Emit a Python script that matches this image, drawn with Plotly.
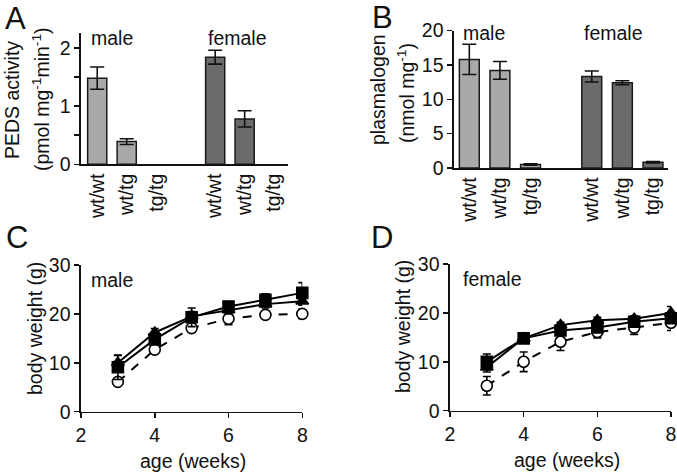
import plotly.graph_objects as go

W, H = 677, 474
FONT = "Liberation Sans, Arial, Helvetica, sans-serif"
FS = 19.5

# ---------- data ----------
genotypes = ["wt/wt", "wt/tg", "tg/tg"]

# Panel A: PEDS activity (pmol mg-1 min-1)
peds_male = [1.48, 0.39, 0.0]
peds_male_err = [0.19, 0.05, 0.0]
peds_female = [1.84, 0.78, 0.0]
peds_female_err = [0.12, 0.14, 0.0]

# Panel B: plasmalogen (nmol mg-1)
plas_male = [15.8, 14.2, 0.5]
plas_male_err = [2.2, 1.3, 0.1]
plas_female = [13.3, 12.4, 0.85]
plas_female_err = [0.8, 0.3, 0.1]

# Panels C, D: body weight (g) vs age (weeks)
weeks = [3, 4, 5, 6, 7, 8]
male_wtwt = [9.1, 14.8, 19.3, 21.5, 22.9, 24.3]
male_wtwt_err = [2.5, 1.0, 1.9, 1.0, 1.2, 2.1]
male_wttg = [10.0, 16.2, 19.5, 20.8, 22.0, 22.6]
male_wttg_err = [1.5, 0.8, 1.0, 0.8, 0.8, 0.8]
male_tgtg = [6.1, 12.7, 17.1, 19.0, 19.8, 20.0]
male_tgtg_err = [0.5, 0.6, 0.6, 1.2, 0.7, 1.0]

female_wtwt = [10.0, 14.8, 16.4, 17.0, 18.2, 18.9]
female_wtwt_err = [1.6, 0.5, 0.7, 0.8, 0.8, 1.0]
female_wttg = [8.9, 14.8, 17.5, 18.5, 18.8, 20.0]
female_wttg_err = [1.0, 0.5, 0.6, 0.6, 0.6, 1.3]
female_tgtg = [5.1, 10.0, 14.1, 16.1, 17.0, 18.0]
female_tgtg_err = [1.9, 2.0, 1.8, 1.2, 1.4, 1.6]

# ---------- layout helpers ----------
def px(x):
    return x / W

def py(y):
    return 1 - y / H

MALE_COLOR = "#a9a9a9"
FEMALE_COLOR = "#6b6b6b"
GROUP_GAP = 4  # female group starts 4 slots after male group
male_pos = list(range(len(genotypes)))
female_pos = [p + GROUP_GAP for p in male_pos]

fig = go.Figure()

def bar_trace(xs, ys, errs, color, xa, ya, name):
    # bars with zero value (not detected) leave no visible mark
    yv = [v if v > 0 else None for v in ys]
    ev = [e if v > 0 else None for v, e in zip(ys, errs)]
    return go.Bar(
        x=xs, y=yv, width=0.65, name=name,
        marker=dict(color=color, line=dict(color="#1a1a1a", width=1.5)),
        error_y=dict(type="data", array=ev, visible=True, color="#111",
                     thickness=1.6, width=7),
        xaxis=xa, yaxis=ya, showlegend=False,
    )

fig.add_trace(bar_trace(male_pos, peds_male, peds_male_err, MALE_COLOR, "x", "y", "male"))
fig.add_trace(bar_trace(female_pos, peds_female, peds_female_err, FEMALE_COLOR, "x", "y", "female"))
fig.add_trace(bar_trace(male_pos, plas_male, plas_male_err, MALE_COLOR, "x2", "y2", "male"))
fig.add_trace(bar_trace(female_pos, plas_female, plas_female_err, FEMALE_COLOR, "x2", "y2", "female"))

def line_trace(ys, errs, symbol, fill, dash, xa, ya, name):
    return go.Scatter(
        x=weeks, y=ys, mode="lines+markers", name=name, cliponaxis=False,
        line=dict(color="black", width=2, dash=dash),
        marker=dict(symbol=symbol, size=11, color=fill,
                    line=dict(color="black", width=1.6)),
        error_y=dict(type="data", array=errs, visible=True, color="black",
                     thickness=1.6, width=4),
        xaxis=xa, yaxis=ya, showlegend=False,
    )

fig.add_trace(line_trace(male_tgtg, male_tgtg_err, "circle", "white", "dash", "x3", "y3", "tg/tg"))
fig.add_trace(line_trace(male_wttg, male_wttg_err, "triangle-up", "black", "solid", "x3", "y3", "wt/tg"))
fig.add_trace(line_trace(male_wtwt, male_wtwt_err, "square", "black", "solid", "x3", "y3", "wt/wt"))
fig.add_trace(line_trace(female_tgtg, female_tgtg_err, "circle", "white", "dash", "x4", "y4", "tg/tg"))
fig.add_trace(line_trace(female_wttg, female_wttg_err, "triangle-up", "black", "solid", "x4", "y4", "wt/tg"))
fig.add_trace(line_trace(female_wtwt, female_wtwt_err, "square", "black", "solid", "x4", "y4", "wt/wt"))

tickfont = dict(family=FONT, size=FS, color="#111")
axis_common = dict(showline=True, linecolor="#111", linewidth=1.6, showgrid=False,
                   zeroline=False, tickfont=tickfont, ticks="outside", ticklen=5,
                   tickwidth=1.5, tickcolor="#111", automargin=False)

cat_ticks = male_pos + female_pos
cat_text = genotypes + genotypes

fig.update_layout(
    width=W, height=H, margin=dict(l=0, r=0, t=0, b=0, autoexpand=False),
    paper_bgcolor="white", plot_bgcolor="white", bargap=0,
    font=dict(family=FONT, size=FS, color="#111"),
    xaxis=dict(axis_common, domain=[px(81), px(288.3)], range=[-0.55, 6.48],
               anchor="y", tickvals=cat_ticks, ticktext=cat_text, tickangle=-90, ticks=""),
    yaxis=dict(axis_common, domain=[py(164.3), py(33.3)], range=[0, 2.25], anchor="x",
               tickvals=[0, 1, 2],
               minor=dict(tickvals=[0.5, 1.5], ticks="outside", ticklen=5,
                          tickwidth=1.5, tickcolor="#111")),
    xaxis2=dict(axis_common, domain=[px(454), px(668.3)], range=[-0.5, 6.5],
                anchor="y2", tickvals=cat_ticks, ticktext=cat_text, tickangle=-90, ticks=""),
    yaxis2=dict(axis_common, domain=[py(168), py(30.5)], range=[0, 20], anchor="x2",
                tickvals=[0, 5, 10, 15, 20]),
    xaxis3=dict(axis_common, domain=[px(81), px(302.3)], range=[2, 8], anchor="y3",
                tickvals=[2, 4, 6, 8]),
    yaxis3=dict(axis_common, domain=[py(411.7), py(265)], range=[0, 30], anchor="x3",
                tickvals=[0, 10, 20, 30]),
    xaxis4=dict(axis_common, domain=[px(450), px(671)], range=[2, 8], anchor="y4",
                tickvals=[2, 4, 6, 8]),
    yaxis4=dict(axis_common, domain=[py(410.7), py(264)], range=[0, 30], anchor="x4",
                tickvals=[0, 10, 20, 30]),
)

def ann(text, x, y, size=FS, angle=0, xanchor="center"):
    fig.add_annotation(text=text, x=px(x), y=py(y), xref="paper", yref="paper",
                       showarrow=False, textangle=angle, xanchor=xanchor, yanchor="middle",
                       font=dict(family=FONT, size=size, color="#111"))

# panel letters
ann("A", 15, 19, size=31)
ann("B", 382, 18, size=31)
ann("C", 17, 237, size=31)
ann("D", 382, 237, size=31)

# y-axis titles
ann("PEDS activity", 12, 100, angle=-90)
ann("(pmol mg<sup>-1</sup>min<sup>-1</sup>)", 41, 100, angle=-90)
ann("plasmalogen", 378, 90, angle=-90)
ann("(nmol mg<sup>-1</sup>)", 406, 93, angle=-90)
ann("body weight (g)", 35, 329, angle=-90)
ann("body weight (g)", 403, 327, angle=-90)

# x-axis titles
ann("age (weeks)", 193, 461)
ann("age (weeks)", 567, 460)

# group labels
ann("male", 89, 38.5, xanchor="left")
ann("female", 206, 38.5, xanchor="left")
ann("male", 461, 33, xanchor="left")
ann("female", 582, 33, xanchor="left")
ann("male", 89, 280, xanchor="left")
ann("female", 461, 279, xanchor="left")

fig.write_html(
    "out.html",
    config={"displayModeBar": False, "staticPlot": True},
    post_script="document.body.style.margin='0';document.body.style.overflow='hidden';",
)
